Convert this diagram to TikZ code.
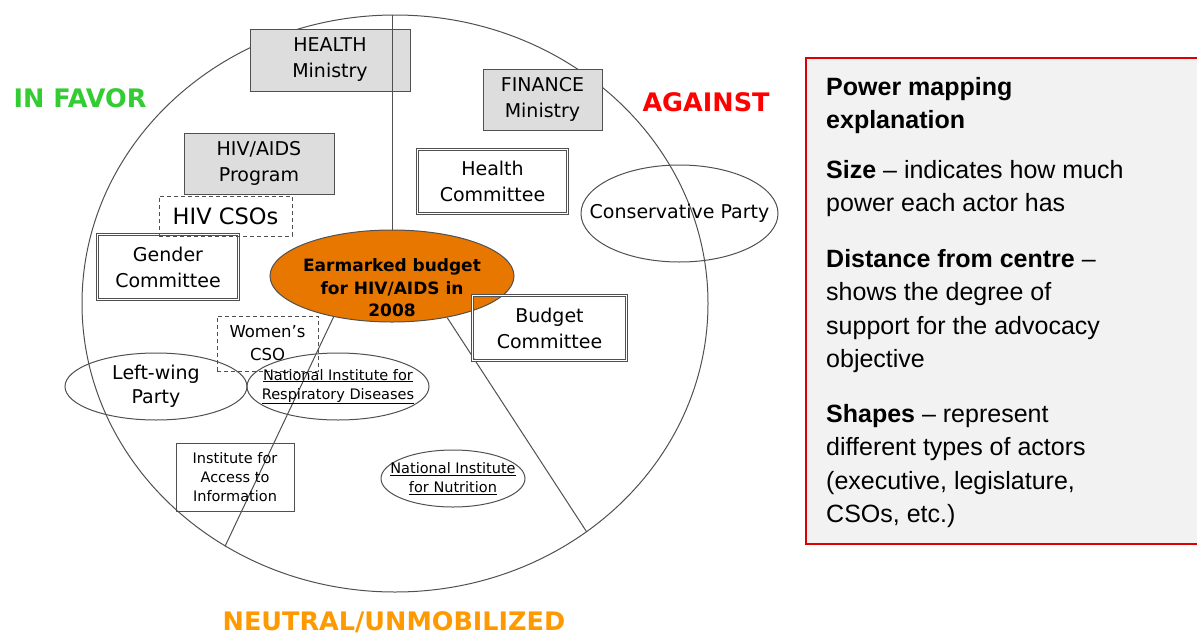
\documentclass[tikz,border=0pt]{standalone}
\usepackage{fontspec}
\setmainfont{DejaVu Sans}
\newfontfamily\panelfont{Liberation Sans}
\usetikzlibrary{shapes.geometric}
\definecolor{favor}{HTML}{33CC33}
\definecolor{against}{HTML}{FF0000}
\definecolor{neutral}{HTML}{FF9900}
\definecolor{goalfill}{HTML}{E87700}
\definecolor{linegray}{HTML}{505050}
\definecolor{boxgray}{HTML}{DDDDDD}
\definecolor{panelred}{HTML}{DD0000}
\definecolor{panelfill}{HTML}{F2F2F2}
\tikzset{
	actor/.style={draw=linegray, line width=1pt, inner sep=0pt, align=center, text=black, font=\fontsize{19}{26}\selectfont},
	graybox/.style={actor, fill=boxgray},
	dblbox/.style={actor, double, double distance=1.8pt, line width=0.8pt},
	dashbox/.style={actor, dash pattern=on 4pt off 3pt},
	actorell/.style={ellipse, draw=linegray, line width=1pt, inner sep=0pt},
	actortext/.style={align=center, inner sep=0pt, font=\fontsize{19}{24}\selectfont},
	smalltext/.style={align=center, inner sep=0pt, font=\fontsize{14.5}{19}\selectfont},
	side/.style={anchor=base, inner sep=0pt, font=\bfseries\fontsize{25.5}{30}\selectfont},
	explain/.style={anchor=north west, inner sep=0pt, align=left, font=\panelfont\fontsize{25}{33.5}\selectfont}
}
\begin{document}
\begin{tikzpicture}[x=1pt,y=-1pt]
	\useasboundingbox (0,0) rectangle (1197,635);
	% the map
	\node[actorell, minimum width=626, minimum height=577] (map) at (395,303.5) {};
	\node[side, text=favor] (favor) at (80,107) {IN FAVOR};
	\node[side, text=against] (against) at (706,111) {AGAINST};
	\node[side, text=neutral] (neutral) at (394,630) {NEUTRAL/UNMOBILIZED};
	% executive
	\node[graybox, minimum width=160, minimum height=62] (health) at (330,60) {HEALTH\\Ministry};
	\node[graybox, minimum width=119, minimum height=61] (finance) at (542.5,99.5) {FINANCE\\Ministry};
	\node[graybox, minimum width=150, minimum height=61] (hivprog) at (259,163.5) {HIV/AIDS\\Program};
	% objective
	\node[actorell, fill=goalfill, minimum width=244, minimum height=92] (goal) at (392,276) {};
	\node[font=\bfseries\fontsize{17}{22.5}\selectfont, align=center, inner sep=0pt] (goaltext) at ([yshift=-12pt]goal.center) {Earmarked budget\\for HIV/AIDS in\\2008};
	\draw[linegray, line width=1pt] (goal.north) -- (goal.north |- map.north);
	\draw[linegray, line width=1pt] (goal.215) -- (map.235);
	\draw[linegray, line width=1pt] (goal.323) -- (map.310);
	% legislature
	\node[dblbox, minimum width=141, minimum height=65] (gender) at (168,267) {Gender\\Committee};
	\node[dblbox, minimum width=150, minimum height=64] (healthcom) at (492.5,181.5) {Health\\Committee};
	\node[dblbox, minimum width=154, minimum height=65] (budget) at (549.5,328) {Budget\\Committee};
	% CSOs
	\node[dashbox, minimum width=133, minimum height=40, font=\fontsize{22.5}{26}\selectfont] (hivcso) at (225.5,216) {HIV CSOs};
	\node[dashbox, minimum width=101, minimum height=55, font=\fontsize{16.5}{23}\selectfont] (womencso) at (267.5,343.5) {Women’s\\CSO};
	\node[actor, smalltext, minimum width=118, minimum height=68] (access) at (235,477) {Institute for\\Access to\\Information};
	% parties and institutes
	\node[actorell, minimum width=197, minimum height=97] (conserv) at (679.5,213.5) {};
	\node[actortext] (conservtext) at (conserv) {Conservative Party};
	\node[actorell, minimum width=182, minimum height=67] (leftwing) at (156,386.5) {};
	\node[actortext] (leftwingtext) at (leftwing) {Left-wing\\Party};
	\node[actorell, minimum width=182, minimum height=67] (respir) at (338,386.5) {};
	\node[smalltext] (respirtext) at (respir) {\underline{National Institute for}\\\underline{Respiratory Diseases}};
	\node[actorell, minimum width=144, minimum height=57] (nutri) at (453,478.5) {};
	\node[smalltext] (nutritext) at (nutri) {\underline{National Institute}\\\underline{for Nutrition}};
	% explanation
	\node[draw=panelred, fill=panelfill, line width=1.5pt, anchor=north west, minimum width=400, minimum height=486] (panel) at (805,57) {};
	\node[explain] (titleinfo) at (826,77) {{\bfseries Power mapping}\\{\bfseries explanation}};
	\node[explain] (sizeinfo) at (826,160) {{\bfseries Size} – indicates how much\\power each actor has};
	\node[explain] (distinfo) at (826,249) {{\bfseries Distance from centre} –\\shows the degree of\\support for the advocacy\\objective};
	\node[explain] (shapeinfo) at (826,404) {{\bfseries Shapes} – represent\\different types of actors\\(executive, legislature,\\CSOs, etc.)};
\end{tikzpicture}
\end{document}
